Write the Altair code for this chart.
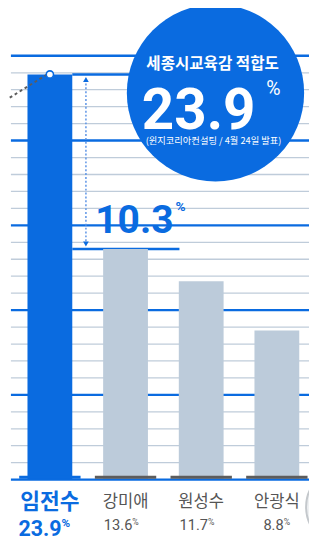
import altair as alt
import pandas as pd

# ---- data ----
names = ["임전수", "강미애", "원성수", "안광식"]
values = [23.9, 13.6, 11.7, 8.8]
major_ticks = [5, 10, 15, 20, 25]
minor_ticks = [1, 2, 3, 4, 6, 7, 8, 9, 11, 12, 13, 14, 16, 17, 18, 19, 21, 22, 23, 24]
title_text = "세종시교육감 적합도"
source_text = "(윈지코리아컨설팅 / 4월 24일 발표)"

BLUE = "#0a6be0"
GRAYBAR = "#bccbda"
GRID = "#bfccda"
DARK = "#5c5c5c"
TXT = "#555555"
KR = "Noto Sans CJK KR"
NUM = "Roboto, sans-serif"

df = pd.DataFrame({
    "name": names,
    "value": values,
    "lead": [n == names[0] for n in names],
    "label": [f"{v:.1f}" for v in values],
})
lead_df = df[df["lead"]].reset_index(drop=True)
rest_df = df[~df["lead"]].reset_index(drop=True)
gap = f"{values[0] - values[1]:.1f}"

W, H = 309, 477
yscale = alt.Scale(domain=[0, 27.41], nice=False, zero=True)
xscale = alt.Scale(domain=names, range=[20, 299], paddingInner=0.408, paddingOuter=0)
X = alt.X("name:N", scale=xscale, axis=None)
Y = alt.Y("value:Q", scale=yscale, axis=None)
one = pd.DataFrame({"a": [0]})


def ydatum(v):
    return alt.Y(datum=v, type="quantitative", scale=yscale, axis=None)


minor = alt.Chart(pd.DataFrame({"v": minor_ticks})).mark_rule(color=GRID, strokeWidth=1.3).encode(
    y=alt.Y("v:Q", scale=yscale, axis=None), x=alt.value(3), x2=alt.value(W))
major = alt.Chart(pd.DataFrame({"v": major_ticks})).mark_rule(color=BLUE, strokeWidth=2.5).encode(
    y=alt.Y("v:Q", scale=yscale, axis=None), x=alt.value(3), x2=alt.value(W))

top_line = alt.Chart(one).mark_rule(color=BLUE, strokeWidth=2.5).encode(
    y=ydatum(values[0]), x=alt.value(66), x2=alt.value(170))
sec_line = alt.Chart(one).mark_rule(color=BLUE, strokeWidth=2.5).encode(
    y=ydatum(values[1]), x=alt.value(66), x2=alt.value(176))

bars_lead = alt.Chart(lead_df).mark_bar(color=BLUE).encode(x=X, y=Y)
bars_rest = alt.Chart(rest_df).mark_bar(color=GRAYBAR).encode(x=X, y=Y)
base_lead = alt.Chart(lead_df).mark_tick(thickness=3, size=63, orient="horizontal", color=BLUE,
                                         opacity=1, yOffset=-2.5).encode(x=X, y=ydatum(0))
base_rest = alt.Chart(rest_df).mark_tick(thickness=3, size=63, orient="horizontal", color=DARK,
                                         opacity=1, yOffset=-2.5).encode(x=X, y=ydatum(0))
baseline = alt.Chart(one).mark_rule(color=BLUE, strokeWidth=2.5).encode(
    y=ydatum(0), x=alt.value(3), x2=alt.value(W))

dash = alt.Chart(one).mark_rule(color=DARK, strokeWidth=2, strokeDash=[3, 3]).encode(
    x=alt.value(40), y=ydatum(values[0]), x2=alt.value(0), y2=alt.value(86))
marker = alt.Chart(lead_df).mark_point(shape="circle", filled=True, fill="white", stroke=BLUE,
                                       strokeWidth=1.6, size=55, opacity=1).encode(x=X, y=Y)

arrow = alt.Chart(one).mark_rule(color="#5a92e6", strokeWidth=1.5, strokeDash=[2, 2]).encode(
    x=alt.value(80), y=ydatum(values[0] - 0.3), y2=alt.Y2(datum=values[1] + 0.3))
tri_up = alt.Chart(one).mark_point(shape="triangle-up", filled=True, color=BLUE, size=34, opacity=1).encode(
    x=alt.value(80), y=ydatum(values[0] - 0.3))
tri_dn = alt.Chart(one).mark_point(shape="triangle-down", filled=True, color=BLUE, size=34, opacity=1).encode(
    x=alt.value(80), y=ydatum(values[1] + 0.3))

gap_txt = alt.Chart(one).mark_text(align="right", baseline="alphabetic", font=NUM, fontSize=40,
                                   fontWeight="bold", color=BLUE, text=gap).encode(
    x=alt.value(170), y=alt.value(224))
gap_pct = alt.Chart(one).mark_text(align="left", baseline="top", font=NUM, fontSize=14,
                                   fontWeight="bold", color=BLUE, text="%").encode(
    x=alt.value(172), y=alt.value(190))

big = alt.Chart(one).mark_circle(size=182 ** 2, color=BLUE, opacity=1).encode(
    x=alt.value(213), y=alt.value(80))
c_title = alt.Chart(one).mark_text(font=KR, fontSize=16, fontWeight="bold", color="white",
                                   align="center", baseline="middle", text=title_text).encode(
    x=alt.value(210), y=alt.value(50))
c_num = alt.Chart(one).mark_text(font=NUM, fontSize=58, fontWeight="bold", color="white",
                                 align="right", baseline="alphabetic", text=f"{values[0]:.1f}").encode(
    x=alt.value(254), y=alt.value(117))
c_pct = alt.Chart(one).mark_text(font=NUM, fontSize=20, color="white",
                                 align="left", baseline="top", text="%").encode(
    x=alt.value(265), y=alt.value(66))
c_src = alt.Chart(one).mark_text(font=KR, fontSize=9.5, color="white",
                                 align="center", baseline="middle", text=source_text).encode(
    x=alt.value(211), y=alt.value(129))

lead_name = alt.Chart(lead_df).mark_text(font=KR, fontSize=22, fontWeight="bold", color=BLUE,
                                         baseline="middle").encode(x=X, y=alt.value(500), text="name:N")
rest_name = alt.Chart(rest_df).mark_text(font=KR, fontSize=17, color=TXT,
                                         baseline="middle").encode(x=X, y=alt.value(500), text="name:N")
lead_val = alt.Chart(lead_df).mark_text(font=NUM, fontSize=22, fontWeight="bold", color=BLUE,
                                        align="right", baseline="alphabetic", dx=12).encode(
    x=X, y=alt.value(535), text="label:N")
lead_pct = alt.Chart(lead_df).mark_text(font=NUM, fontSize=12, fontWeight="bold", color=BLUE,
                                        align="left", baseline="top", dx=12, text="%").encode(
    x=X, y=alt.value(517))
rest_val = alt.Chart(rest_df).mark_text(font=NUM, fontSize=15, color=TXT,
                                        align="right", baseline="alphabetic", dx=7).encode(
    x=X, y=alt.value(529), text="label:N")
rest_pct = alt.Chart(rest_df).mark_text(font=NUM, fontSize=9, color=TXT,
                                        align="left", baseline="top", dx=7, text="%").encode(
    x=X, y=alt.value(517))

deco = alt.Chart(one).mark_circle(size=80 ** 2, color="#eef0f2", stroke="#c4c8cc", strokeWidth=2,
                                  opacity=1).encode(x=alt.value(346), y=alt.value(505))

chart = alt.layer(
    minor, major, top_line, sec_line, bars_lead, bars_rest, baseline, base_lead, base_rest,
    dash, marker, arrow, tri_up, tri_dn, gap_txt, gap_pct,
    big, c_title, c_num, c_pct, c_src,
    lead_name, rest_name, lead_val, lead_pct, rest_val, rest_pct, deco,
).properties(
    width=W, height=H, autosize="none",
    padding={"left": 0, "top": 0, "right": 0, "bottom": 62},
    background="white",
).configure_view(stroke=None)

chart.save("out.html", embed_options={"renderer": "svg", "actions": False})
